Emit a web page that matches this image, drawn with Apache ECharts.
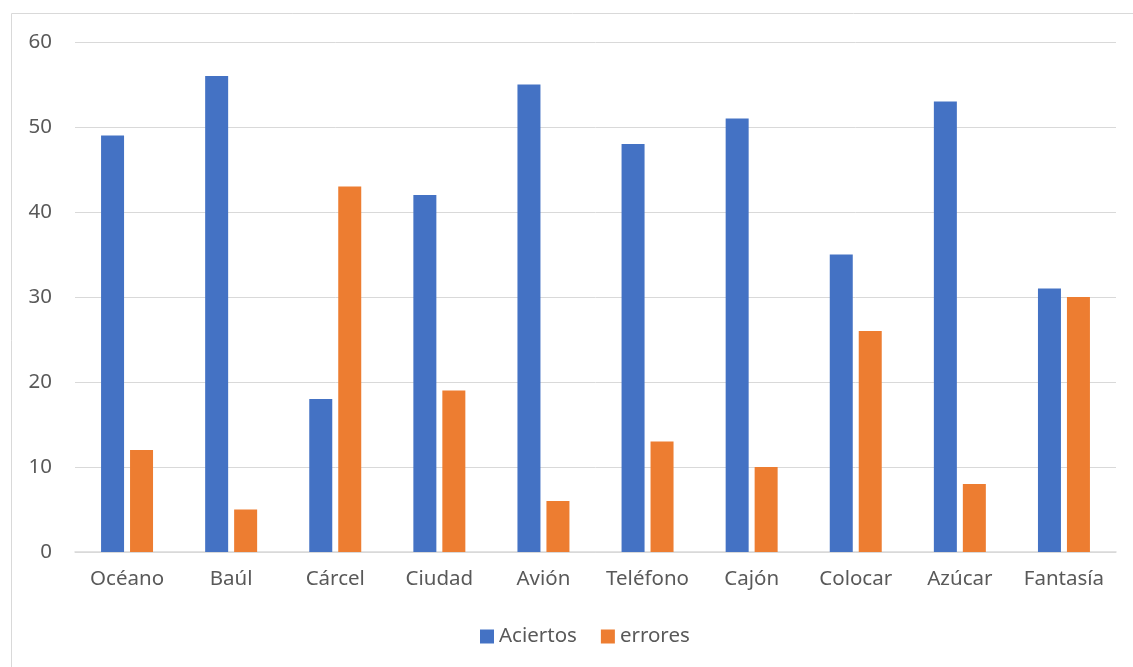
<!DOCTYPE html>
<html><head><meta charset="utf-8">
<script src="https://cdn.jsdelivr.net/npm/echarts@6/dist/echarts.min.js"></script>
<style>html,body{margin:0;padding:0;background:#fff}#c{width:1133px;height:667px}</style>
</head><body><div id="c"></div>
<script>
const categories = ['Océano','Baúl','Cárcel','Ciudad','Avión','Teléfono','Cajón','Colocar','Azúcar','Fantasía'];
const aciertos = [49,56,18,42,55,48,51,35,53,31];
const errores = [12,5,43,19,6,13,10,26,8,30];
const yTicks = [0,10,20,30,40,50,60];

const chart = echarts.init(document.getElementById('c'), null, {renderer:'canvas'});
const font = '"Noto Sans", "Open Sans", sans-serif';
chart.setOption({
  animation:false,
  textStyle:{fontFamily:font},
  graphic:[{type:'rect',shape:{x:11.5,y:13.5,width:1140,height:700},style:{fill:'none',stroke:'#d9d9d9',lineWidth:1}}],
  grid:{left:75,right:17,top:42,bottom:115},
  legend:{bottom:15,left:475,itemWidth:14,itemHeight:14,itemGap:24,icon:'rect',
    textStyle:{color:'#595959',fontSize:20.5,fontFamily:font},
    data:['Aciertos','errores']},
  xAxis:{type:'category',data:categories,
    axisLine:{lineStyle:{color:'#d9d9d9',width:1.5}},axisTick:{show:false},
    axisLabel:{color:'#595959',fontSize:20.5,margin:17,interval:0,fontFamily:font}},
  yAxis:{type:'value',min:yTicks[0],max:yTicks[yTicks.length-1],interval:10,
    axisLine:{show:false},axisTick:{show:false},
    splitLine:{lineStyle:{color:'#d9d9d9',width:1}},
    axisLabel:{color:'#595959',fontSize:20.5,margin:23,fontFamily:font}},
  series:[
    {name:'Aciertos',type:'bar',data:aciertos,barWidth:23,barGap:'26%',itemStyle:{color:'#4472C4'}},
    {name:'errores',type:'bar',data:errores,barWidth:23,barGap:'26%',itemStyle:{color:'#ED7D31'}}
  ]
});
</script></body></html>
